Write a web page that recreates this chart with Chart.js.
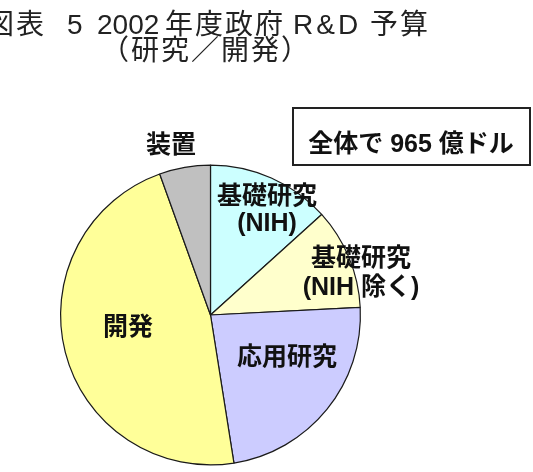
<!DOCTYPE html>
<html>
<head>
<meta charset="utf-8">
<script src="https://cdn.jsdelivr.net/npm/chart.js@4.4.0/dist/chart.umd.min.js"></script>
<style>
html,body{margin:0;padding:0;background:#fff;}
canvas{display:block;}
</style>
</head>
<body>
<canvas id="c" width="533" height="472"></canvas>
<script>
const categories = ["基礎研究\n(NIH)", "基礎研究\n(NIH 除く)", "応用研究", "開発", "装置"];
const shares = [13.3, 10.9, 23.3, 47.0, 5.5];
const sliceColors = ["#CCFFFF", "#FFFFCC", "#CCCCFF", "#FFFF99", "#C0C0C0"];
const titleParts = [["図表", -14, 2], ["5", 67, 0], ["2002", 97, 0], ["年度政府", 165, 2], ["R&D", 293, 3], ["予算", 370, 2]];
const subtitle = "（研究／開発）";
const totalNote = "全体で 965 億ドル";
const labelPos = [[267, 197, 224], [361, 259, 288], [287, 358], [128, 328], [171, 146]];

const FONT = "'Liberation Sans', 'Noto Sans CJK JP', sans-serif";

const overlay = {
  id: 'overlay',
  afterDraw(chart) {
    const ctx = chart.ctx;
    ctx.save();
    // title
    ctx.fillStyle = '#222';
    ctx.textBaseline = 'middle';
    ctx.textAlign = 'left';
    ctx.font = "28px " + FONT;
    titleParts.forEach(([t, x, ls]) => {
      ctx.letterSpacing = ls + "px";
      ctx.fillText(t, x, 26);
    });
    ctx.letterSpacing = "2px";
    ctx.fillText(subtitle, 101, 52);
    ctx.letterSpacing = "0px";
    // total box
    ctx.strokeStyle = '#222';
    ctx.lineWidth = 2;
    ctx.strokeRect(293, 108, 237, 57);
    ctx.fillStyle = '#111';
    ctx.font = "bold 25px " + FONT;
    ctx.textAlign = 'center';
    ctx.fillText(totalNote, 411, 145);
    // slice labels
    ctx.font = "bold 25px " + FONT;
    categories.forEach((lab, i) => {
      const lines = lab.split("\n");
      const p = labelPos[i];
      lines.forEach((ln, k) => {
        const y = k === 0 ? p[1] : p[2];
        ctx.fillText(ln, p[0], y);
      });
    });
    ctx.restore();
  }
};

new Chart(document.getElementById('c'), {
  type: 'pie',
  data: {
    labels: categories,
    datasets: [{
      data: shares,
      backgroundColor: sliceColors,
      borderColor: '#1a1a1a',
      borderWidth: 1.2
    }]
  },
  options: {
    responsive: false,
    animation: false,
    layout: { padding: { left: 60, right: 172, top: 164, bottom: 6 } },
    plugins: {
      legend: { display: false },
      title: { display: false },
      tooltip: { enabled: false }
    }
  },
  plugins: [overlay]
});
</script>
</body>
</html>
